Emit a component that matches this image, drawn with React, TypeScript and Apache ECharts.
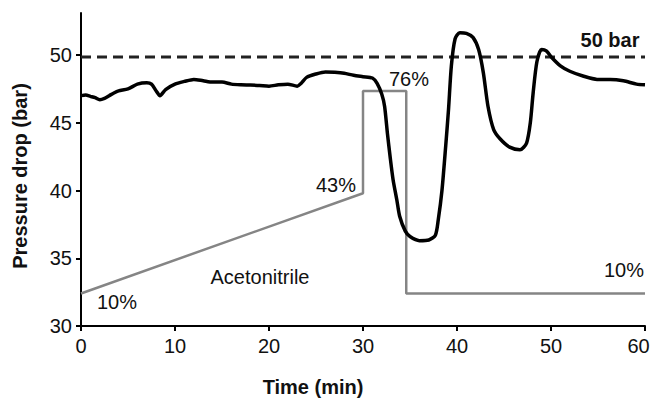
import React, { useEffect, useRef } from "react";
import * as echarts from "echarts";

const pressureTime = [0, 0.5, 1, 1.5, 2, 2.5, 3, 3.5, 4, 5, 6, 7, 7.5, 8, 8.4, 9, 10, 11, 12, 13, 14, 15, 16, 17, 18, 19, 20, 21, 22, 23, 23.4, 24, 25, 26, 27, 28, 29, 30, 31, 31.5, 32, 32.3, 32.6, 32.9, 33.2, 33.6, 33.9, 34.5, 35, 36, 37, 37.7, 38, 38.4, 38.8, 39.1, 39.4, 39.8, 40.3, 41, 41.7, 42.3, 42.8, 43.3, 43.9, 44.6, 45.6, 46.7, 47.4, 47.8, 48.1, 48.5, 49, 49.5, 50.1, 51, 52, 53.4, 54.9, 56.3, 57.7, 59.1, 60];
const pressureValue = [47.0, 47.05, 46.95, 46.85, 46.7, 46.8, 47.0, 47.2, 47.35, 47.5, 47.85, 47.95, 47.85, 47.35, 47.0, 47.45, 47.85, 48.05, 48.2, 48.1, 48.0, 48.0, 47.85, 47.8, 47.78, 47.75, 47.7, 47.8, 47.85, 47.7, 47.9, 48.35, 48.6, 48.75, 48.72, 48.65, 48.5, 48.4, 48.3, 47.9, 47.1, 46.2, 44.2, 42.4, 40.8, 39.3, 38.1, 37.0, 36.6, 36.3, 36.35, 36.7, 37.8, 40.0, 43.3, 46.0, 49.2, 51.2, 51.65, 51.6, 51.3, 50.4, 48.7, 46.2, 44.5, 43.8, 43.2, 43.0, 43.5, 45.0, 47.2, 49.5, 50.4, 50.3, 49.8, 49.2, 48.8, 48.45, 48.2, 48.2, 48.1, 47.85, 47.8];

const gradientTime = [0, 30, 30, 34.6, 34.6, 60];
const gradientValue = [32.4, 39.8, 47.35, 47.35, 32.4, 32.4];

const limitTime = [0, 60];
const limitValue = [49.85, 49.85];

const yTicks = [30, 35, 40, 45, 50];

const FONT = "'Liberation Sans', Arial, Helvetica, sans-serif";

export default function App() {
  const ref = useRef<HTMLDivElement>(null);
  useEffect(() => {
    if (!ref.current) return;
    const chart = echarts.init(ref.current, null, { renderer: "svg" });
    const zip = (a: number[], b: number[]) => a.map((v, i) => [v, b[i]]);
    const txt = (t: string, x: number, y: number, bold = false, align = "center") => ({
      type: "text",
      x,
      y,
      style: {
        text: t,
        fontSize: 20,
        fontFamily: FONT,
        fontWeight: bold ? "bold" : "normal",
        fill: "#111",
        align,
        verticalAlign: "middle",
      },
    });
    chart.setOption({
      animation: false,
      textStyle: { fontFamily: FONT },
      grid: { left: 81, right: 7, top: 13, bottom: 73, containLabel: false, outerBoundsMode: "none" },
      xAxis: {
        type: "value",
        min: 0,
        max: 60,
        interval: 10,
        splitLine: { show: false },
        axisLine: { lineStyle: { color: "#000", width: 2 } },
        axisTick: { length: 5, lineStyle: { color: "#000", width: 2 } },
        axisLabel: {
          color: "#111",
          fontSize: 20,
          margin: 10,
          fontFamily: FONT,
          formatter: (v: number) => (v === 60 ? `{last|${v}}` : `${v}`),
          rich: {
            last: { fontSize: 20, fontFamily: FONT, color: "#111", padding: [0, 13, 0, 0] },
          },
        },
      },
      yAxis: {
        type: "value",
        min: 30,
        max: 53.1,
        splitLine: { show: false },
        axisLine: { show: true, lineStyle: { color: "#000", width: 2 } },
        axisTick: { show: true, length: 5, customValues: yTicks, lineStyle: { color: "#000", width: 2 } },
        axisLabel: { color: "#111", fontSize: 20, margin: 9, customValues: yTicks, fontFamily: FONT },
      },
      series: [
        {
          type: "line",
          data: zip(limitTime, limitValue),
          symbol: "none",
          lineStyle: { color: "#222", width: 3, type: [10, 6] },
          z: 1,
        },
        {
          type: "line",
          data: zip(gradientTime, gradientValue),
          symbol: "none",
          lineStyle: { color: "#858585", width: 2.5 },
          z: 2,
        },
        {
          type: "line",
          data: zip(pressureTime, pressureValue),
          symbol: "none",
          smooth: 0.25,
          lineStyle: { color: "#000", width: 3.5 },
          z: 3,
        },
      ],
      graphic: [
        txt("10%", 117, 302),
        txt("43%", 336, 185),
        txt("76%", 409, 79),
        txt("10%", 624, 270),
        txt("Acetonitrile", 260, 277),
        txt("50 bar", 610, 40, true),
        txt("Time (min)", 313, 387, true),
        {
          type: "text",
          x: 20,
          y: 176,
          rotation: Math.PI / 2,
          style: {
            text: "Pressure drop (bar)",
            fontSize: 20,
            fontFamily: FONT,
            fontWeight: "bold",
            fill: "#111",
            align: "center",
            verticalAlign: "middle",
          },
        },
      ],
    });
    return () => chart.dispose();
  }, []);
  return <div ref={ref} style={{ width: 652, height: 399, position: "absolute", left: 0, top: 0 }} />;
}
